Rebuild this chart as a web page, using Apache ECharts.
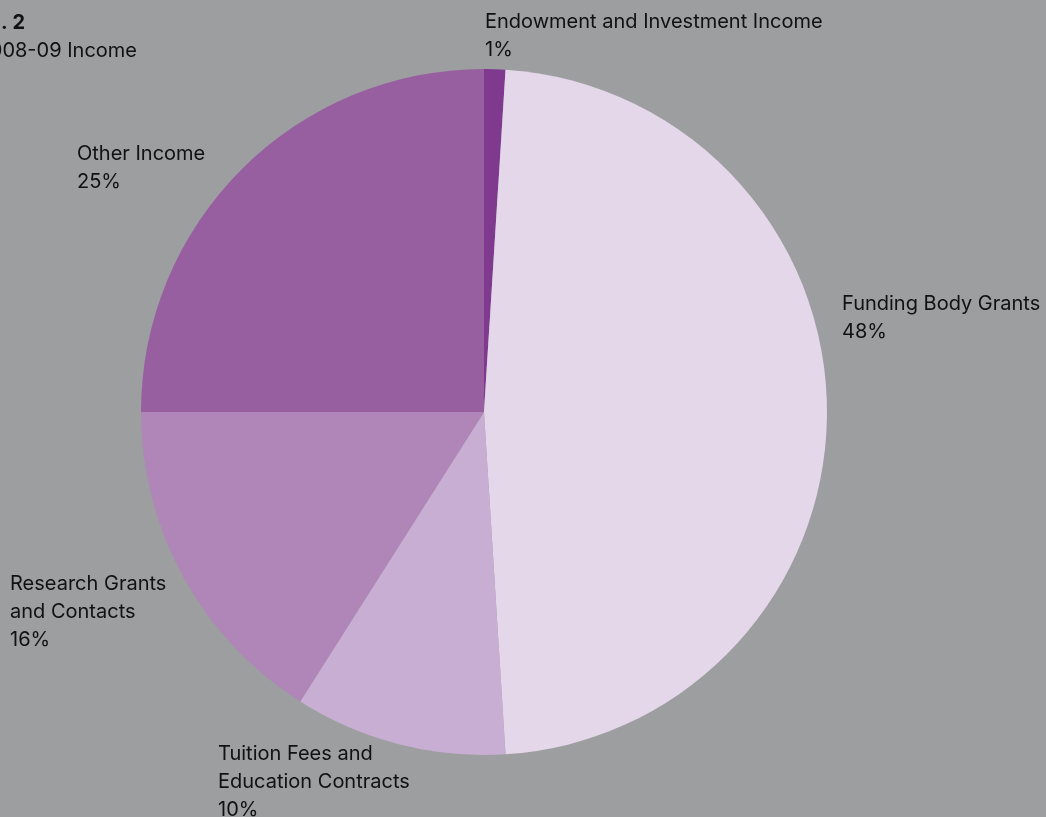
<!DOCTYPE html>
<html>
<head>
<meta charset="utf-8">
<script src="https://cdn.jsdelivr.net/npm/echarts@6/dist/echarts.min.js"></script>
<style>
html,body{margin:0;padding:0;background:#9d9ea0;}
#c{width:1046px;height:817px;}
</style>
</head>
<body>
<div id="c"></div>
<script>
const categories = ["Endowment and Investment Income", "Funding Body Grants", "Tuition Fees and Education Contracts", "Research Grants and Contacts", "Other Income"];
const displayNames = ["Endowment and Investment Income", "Funding Body Grants", "Tuition Fees and\nEducation Contracts", "Research Grants\nand Contacts", "Other Income"];
const values = [1, 48, 10, 16, 25];
const colors = ["#7f3a8f", "#e4d7ea", "#c9aed3", "#b085b8", "#985fa0"];
const labelPos = [[485, 8], [842, 290], [218, 740], [10, 570], [77, 140]];

const FONT = "Inter, 'Liberation Sans', Arial, sans-serif";
const chart = echarts.init(document.getElementById('c'));
chart.setOption({
  backgroundColor: '#9d9ea0',
  animation: false,
  graphic: [
    {type:'text', x: 25, y: 13, style:{text:'Fig. 2', align:'right', fill:'#111', font:"bold 20px " + FONT}},
    {type:'text', x: 137, y: 41, style:{text:'2008-09 Income', align:'right', fill:'#111', font:"20px " + FONT}}
  ],
  series: [{
    type: 'pie',
    center: [484, 412],
    radius: [0, 343],
    startAngle: 90,
    clockwise: true,
    avoidLabelOverlap: false,
    data: categories.map((c, i) => ({name: c, value: values[i], itemStyle: {color: colors[i]}})),
    label: {
      show: true,
      position: 'outside',
      color: '#111',
      fontFamily: FONT,
      fontSize: 20,
      lineHeight: 28,
      align: 'left',
      formatter: p => displayNames[p.dataIndex] + '\n' + Math.round(p.percent) + '%'
    },
    labelLine: {show: false},
    labelLayout: p => ({x: labelPos[p.dataIndex][0], y: labelPos[p.dataIndex][1], align: 'left', verticalAlign: 'top'}),
    emphasis: {disabled: true}
  }]
});
</script>
</body>
</html>
